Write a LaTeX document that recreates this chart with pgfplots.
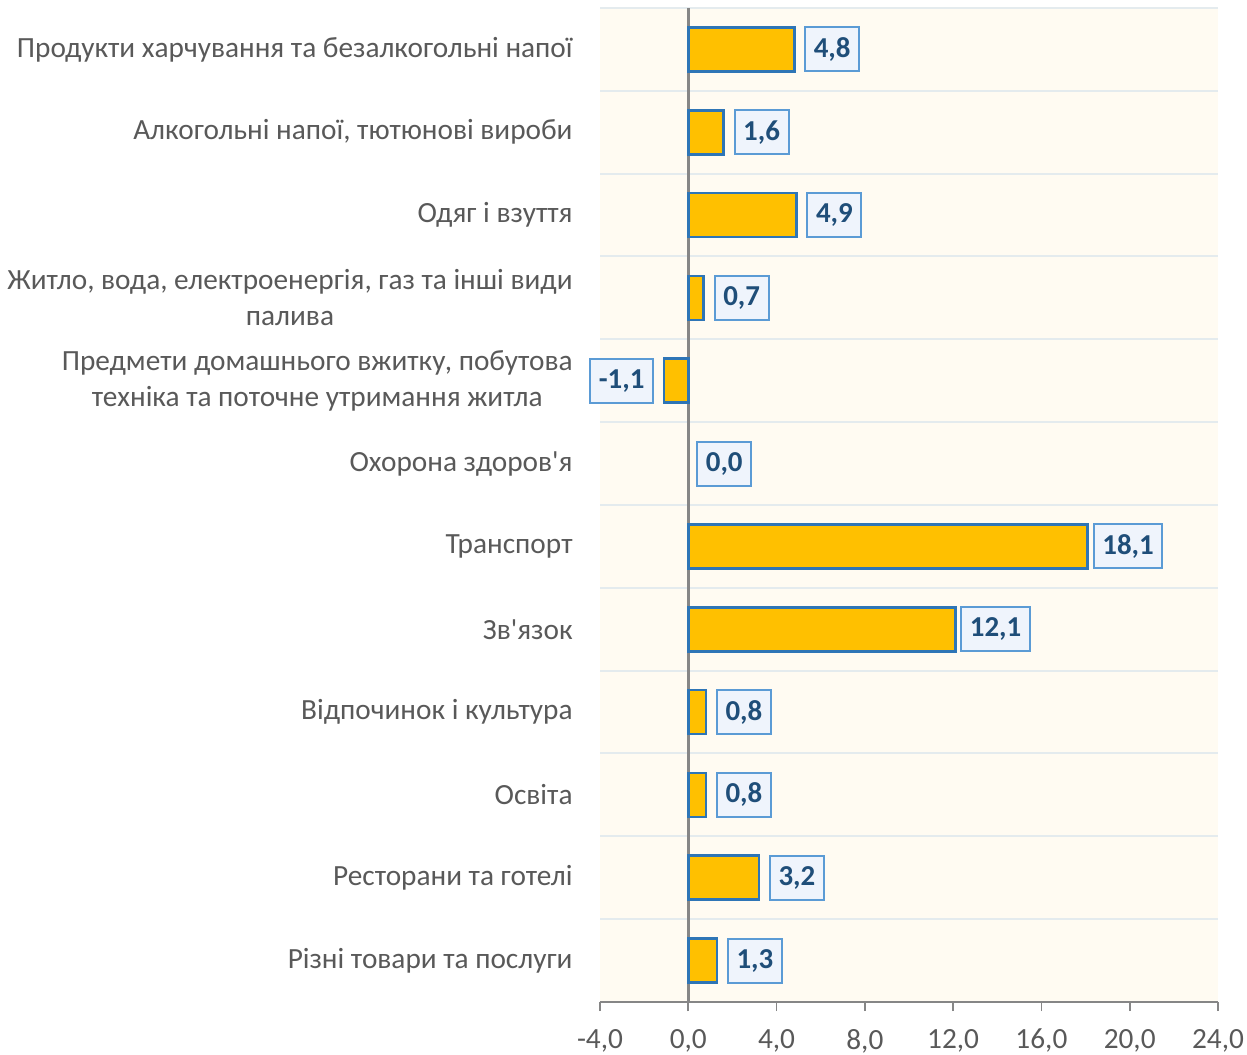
\documentclass[border=0pt]{standalone}
\usepackage{pgfplots}
\pgfplotsset{compat=1.18}
\usepackage{fontspec}
\setmainfont{Carlito}
\definecolor{barfill}{HTML}{FFC000}
\definecolor{barline}{HTML}{2E75B6}
\definecolor{lblfill}{HTML}{EFF4FC}
\definecolor{lblline}{HTML}{5B9BD5}
\definecolor{lbltext}{HTML}{1F4E79}
\definecolor{txt}{HTML}{595959}
\definecolor{bg}{HTML}{FFFBF2}
\definecolor{gridc}{HTML}{E4EBEE}
\definecolor{axc}{HTML}{868686}
\begin{document}
\begin{tikzpicture}
\begin{axis}[
  xbar, bar width=22bp, bar shift=0pt,
  scale only axis, width=309bp, height=497bp,
  xmin=-4, xmax=24, ymin=-0.5, ymax=11.5,
  axis background/.style={fill=bg},
  axis x line*=bottom, axis y line*=left,
  y axis line style={draw=none},
  x axis line style={draw=axc, line width=0.9bp},
  xtick={-4,0,4,8,12,16,20,24},
  tick align=outside,
  major tick length=4.5bp,
  x tick style={draw=axc, line width=0.9bp},
  ytick={0,...,11},
  y tick style={draw=none},
  minor ytick={-0.5,0.5,...,11.5},
  minor tick length=0pt,
  yminorgrids=true,
  minor grid style={draw=gridc, line width=1bp},
  extra x ticks={0},
  extra x tick labels={},
  extra x tick style={grid=major, major grid style={draw=axc, line width=1.3bp}},
  /pgf/number format/assume math mode=true,
  xticklabel style={font=\fontsize{14.7}{17}\selectfont, text=txt, inner sep=0pt, yshift=-8.8bp,
    /pgf/number format/.cd, fixed, fixed zerofill, precision=1, use comma},
  yticklabel style={font=\fontsize{14.7}{18}\selectfont, text=txt, align=center, inner sep=0pt, xshift=-9bp},
  yticklabels={
    Різні товари та послуги,
    Ресторани та готелі,
    Освіта,
    Відпочинок і культура,
    Зв\textquotesingle язок,
    Транспорт,
    Охорона здоров\textquotesingle я,
    {Предмети домашнього вжитку, побутова\\техніка та поточне утримання житла},
    {Житло, вода, електроенергія, газ та інші види\\палива},
    Одяг і взуття,
    {Алкогольні напої, тютюнові вироби},
    Продукти харчування та безалкогольні напої
  },
  point meta=x,
  nodes near coords={\pgfmathprintnumber[fixed,fixed zerofill,precision=1,use comma,assume math mode=true]{\pgfplotspointmeta}},
  every node near coord/.append style={font=\bfseries\fontsize{14.5}{14.5}\selectfont, text=lbltext,
    fill=lblfill, draw=lblline, line width=1bp, inner xsep=4.3bp, inner ysep=0pt,
    minimum height=22bp},
]
\addplot[fill=barfill, draw=barline, line width=1.3bp,
  nodes near coords style={anchor=west, xshift=5bp}] coordinates {
  (1.3,0) (3.2,1) (0.8,2) (0.8,3) (0.7,8) (4.9,9) (1.6,10) (4.8,11)
};
\addplot[fill=barfill, draw=barline, line width=1.3bp,
  nodes near coords style={anchor=west, xshift=2.5bp}] coordinates {
  (12.1,4) (18.1,5)
};
\addplot[fill=barfill, draw=barline, line width=1.3bp,
  nodes near coords style={anchor=east, xshift=-5bp}] coordinates {
  (-1.1,7)
};
\addplot[fill=none, draw=none,
  nodes near coords style={anchor=west, xshift=4bp}] coordinates {
  (0.0,6)
};
\coordinate (LL) at (rel axis cs:0,0);
\coordinate (UR) at (rel axis cs:1,1);
\end{axis}
\pgfresetboundingbox
\path ([xshift=-300bp,yshift=-26.5bp]LL) rectangle ([xshift=14.5bp,yshift=4bp]UR);
\end{tikzpicture}
\end{document}
